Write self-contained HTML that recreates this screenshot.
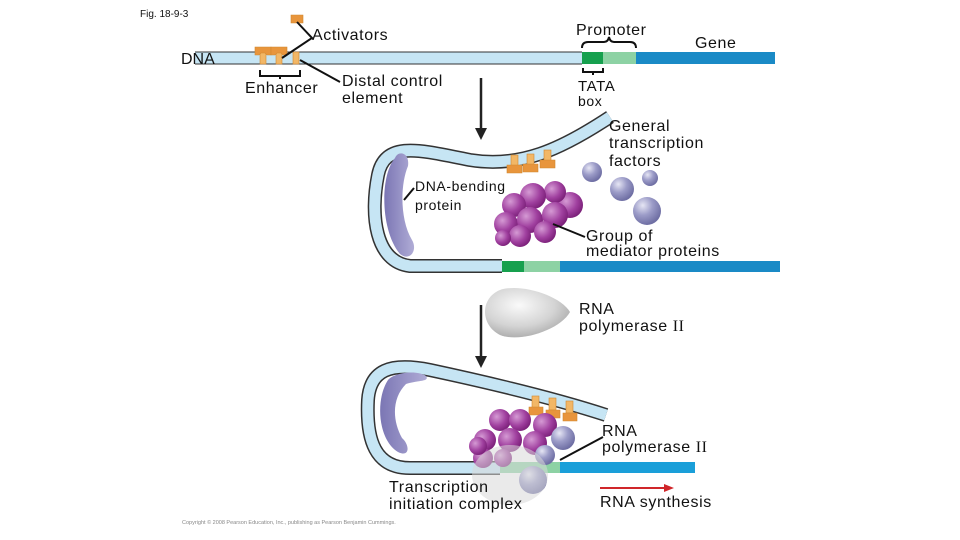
<!DOCTYPE html>
<html><head><meta charset="utf-8"><style>
html,body{margin:0;padding:0;background:#fff;}
svg{display:block;}
text{font-family:"Liberation Sans",sans-serif;fill:#111;letter-spacing:0.6px;}
</style></head><body>
<svg width="960" height="540" viewBox="0 0 960 540" xmlns="http://www.w3.org/2000/svg">
<defs>
<radialGradient id="pur" cx="35%" cy="35%" r="70%"><stop offset="0" stop-color="#d59ad4"/><stop offset="0.6" stop-color="#a0409f"/><stop offset="1" stop-color="#7a1f78"/></radialGradient>
<radialGradient id="lav" cx="35%" cy="30%" r="70%"><stop offset="0" stop-color="#e6e6f4"/><stop offset="0.5" stop-color="#9c9cc8"/><stop offset="1" stop-color="#6f6fa4"/></radialGradient>
<radialGradient id="gry" cx="40%" cy="35%" r="70%"><stop offset="0" stop-color="#fafafa"/><stop offset="0.6" stop-color="#d4d4d4"/><stop offset="1" stop-color="#a8a8a8"/></radialGradient>
<linearGradient id="bend" x1="0" x2="1"><stop offset="0" stop-color="#7b76b4"/><stop offset="1" stop-color="#b0acd6"/></linearGradient>
</defs>
<text x="140" y="17" font-size="10" style="letter-spacing:0">Fig. 18-9-3</text>

<rect x="195" y="52" width="390" height="12" fill="#c6e5f4"/>
<line x1="195" y1="52" x2="582" y2="52" stroke="#333" stroke-width="1"/>
<line x1="195" y1="64" x2="582" y2="64" stroke="#333" stroke-width="1"/>
<rect x="582" y="52" width="21" height="12" fill="#16a04e"/>
<rect x="603" y="52" width="33" height="12" fill="#8dd2a4"/>
<rect x="636" y="52" width="139" height="12" fill="#1a8ac6"/>
<text x="181" y="64" font-size="16" style="letter-spacing:0">DNA</text>
<g fill="#f2b766" stroke="#d08830" stroke-width="0.6">
<rect x="260" y="52" width="6" height="12"/><rect x="276" y="52" width="6" height="12"/><rect x="293" y="52" width="6" height="12"/>
<path d="M255 47 h16 v8 h-4 l-2 -2 h-4 l-2 2 h-4z" fill="#e8953c"/>
<path d="M271 47 h16 v8 h-4 l-2 -2 h-4 l-2 2 h-4z" fill="#e8953c"/>
<path d="M291 15 h12 v8 h-12z" fill="#e8953c"/>
</g>
<path d="M260 70 v6 h40 v-6 M280 76 v3" fill="none" stroke="#111" stroke-width="2"/>
<text x="245" y="93" font-size="16">Enhancer</text>
<path d="M297 22 L312 38 L282 58" fill="none" stroke="#111" stroke-width="2"/>
<text x="312" y="40" font-size="16">Activators</text>
<line x1="300" y1="60" x2="340" y2="82" stroke="#111" stroke-width="2"/>
<text x="342" y="86" font-size="16">Distal control</text>
<text x="342" y="103" font-size="16">element</text>
<text x="576" y="35" font-size="16">Promoter</text>
<path d="M582 48 q0 -6 6 -6 h16 q4 0 5 -5 q1 5 5 5 h16 q6 0 6 6" fill="none" stroke="#111" stroke-width="2"/>
<text x="695" y="48" font-size="16">Gene</text>
<path d="M583 68 v4 h20 v-4 M593 72 v3" fill="none" stroke="#111" stroke-width="2"/>
<text x="578" y="91" font-size="15">TATA</text>
<text x="578" y="106" font-size="14">box</text>

<line x1="481" y1="78" x2="481" y2="130" stroke="#222" stroke-width="2.5"/>
<path d="M475 128 L481 140 L487 128z" fill="#222"/>
<line x1="481" y1="305" x2="481" y2="358" stroke="#222" stroke-width="2.5"/>
<path d="M475 356 L481 368 L487 356z" fill="#222"/>

<path d="M610 117 C560 150 520 168 470 160 C420 150 385 140 378 175 C370 215 375 262 410 266 L502 266" fill="none" stroke="#333" stroke-width="14"/>
<path d="M610 117 C560 150 520 168 470 160 C420 150 385 140 378 175 C370 215 375 262 410 266 L502 266" fill="none" stroke="#c6e5f4" stroke-width="11"/>
<rect x="502" y="261" width="22" height="11" fill="#16a04e"/>
<rect x="524" y="261" width="36" height="11" fill="#8dd2a4"/>
<rect x="560" y="261" width="220" height="11" fill="#1a8ac6"/>
<path d="M395 158 C380 175 380 230 400 254 C410 262 418 250 412 240 C400 220 400 185 408 166 C410 152 398 150 395 158z" fill="url(#bend)"/>
<line x1="404" y1="200" x2="414" y2="188" stroke="#111" stroke-width="2"/>
<text x="415" y="191" font-size="14">DNA-bending</text>
<text x="415" y="210" font-size="14">protein</text>
<g fill="#f2b766" stroke="#d08830" stroke-width="0.6">
<rect x="511" y="155" width="7" height="12"/><rect x="527" y="154" width="7" height="12"/><rect x="544" y="150" width="7" height="12"/>
<path d="M507 165 h15 v8 h-15z" fill="#e8953c"/><path d="M523 164 h15 v8 h-15z" fill="#e8953c"/><path d="M540 160 h15 v8 h-15z" fill="#e8953c"/>
</g>
<g fill="url(#pur)">
<circle cx="570" cy="205" r="13"/><circle cx="555" cy="192" r="11"/>
<circle cx="533" cy="196" r="13"/><circle cx="514" cy="205" r="12"/>
<circle cx="506" cy="224" r="12"/><circle cx="530" cy="220" r="13"/>
<circle cx="555" cy="215" r="13"/><circle cx="520" cy="236" r="11"/>
<circle cx="545" cy="232" r="11"/><circle cx="503" cy="238" r="8"/>
</g>
<g fill="url(#lav)">
<circle cx="592" cy="172" r="10"/><circle cx="622" cy="189" r="12"/>
<circle cx="650" cy="178" r="8"/><circle cx="647" cy="211" r="14"/>
</g>
<line x1="553" y1="224" x2="585" y2="237" stroke="#111" stroke-width="2"/>
<text x="609" y="131" font-size="16">General</text>
<text x="609" y="148" font-size="16">transcription</text>
<text x="609" y="166" font-size="16">factors</text>
<text x="586" y="241" font-size="16">Group of</text>
<text x="586" y="256" font-size="16">mediator proteins</text>

<path d="M500 290 C520 283 560 295 570 312 C560 330 520 343 500 335 C480 325 480 298 500 290z" fill="url(#gry)"/>
<text x="579" y="314" font-size="16">RNA</text>
<text x="579" y="331" font-size="16">polymerase <tspan style="font-family:'Liberation Serif',serif">II</tspan></text>

<path d="M606 415 C560 400 500 385 430 370 C390 362 370 370 368 400 C366 440 375 468 410 468 L500 468" fill="none" stroke="#333" stroke-width="14"/>
<path d="M606 415 C560 400 500 385 430 370 C390 362 370 370 368 400 C366 440 375 468 410 468 L500 468" fill="none" stroke="#c6e5f4" stroke-width="11"/>
<rect x="500" y="462" width="60" height="11" fill="#8dd2a4"/>
<rect x="560" y="462" width="135" height="11" fill="#1a9fd9"/>
<path d="M388 380 C375 400 378 440 398 452 C410 458 410 445 402 438 C392 420 392 398 406 384 C418 380 430 382 426 376 C418 370 395 372 388 380z" fill="url(#bend)"/>
<g fill="#f2b766" stroke="#d08830" stroke-width="0.6">
<rect x="532" y="396" width="7" height="12"/><rect x="549" y="398" width="7" height="12"/><rect x="566" y="401" width="7" height="12"/>
<path d="M529 407 h14 v8 h-14z" fill="#e8953c"/><path d="M546 410 h14 v8 h-14z" fill="#e8953c"/><path d="M563 413 h14 v8 h-14z" fill="#e8953c"/>
</g>
<g fill="url(#pur)">
<circle cx="500" cy="420" r="11"/><circle cx="520" cy="420" r="11"/><circle cx="545" cy="425" r="12"/>
<circle cx="485" cy="440" r="11"/><circle cx="510" cy="440" r="12"/><circle cx="535" cy="443" r="12"/>
<circle cx="483" cy="458" r="10"/><circle cx="503" cy="458" r="9"/><circle cx="478" cy="446" r="9"/>
</g>
<g fill="url(#lav)">
<circle cx="563" cy="438" r="12"/><circle cx="545" cy="455" r="10"/><circle cx="533" cy="480" r="14"/>
</g>
<ellipse cx="510" cy="475" rx="38" ry="30" fill="#d8d8d8" opacity="0.55"/>
<line x1="560" y1="460" x2="603" y2="437" stroke="#111" stroke-width="2"/>
<text x="602" y="436" font-size="16">RNA</text>
<text x="602" y="452" font-size="16">polymerase <tspan style="font-family:'Liberation Serif',serif">II</tspan></text>
<text x="389" y="492" font-size="16">Transcription</text>
<text x="389" y="509" font-size="16">initiation complex</text>
<line x1="600" y1="488" x2="665" y2="488" stroke="#d0262a" stroke-width="2"/>
<path d="M664 484 L674 488 L664 492z" fill="#d0262a"/>
<text x="600" y="507" font-size="16">RNA synthesis</text>
<text x="182" y="524" font-size="5.5" style="fill:#888;letter-spacing:0">Copyright © 2008 Pearson Education, Inc., publishing as Pearson Benjamin Cummings.</text>
</svg>
</body></html>
